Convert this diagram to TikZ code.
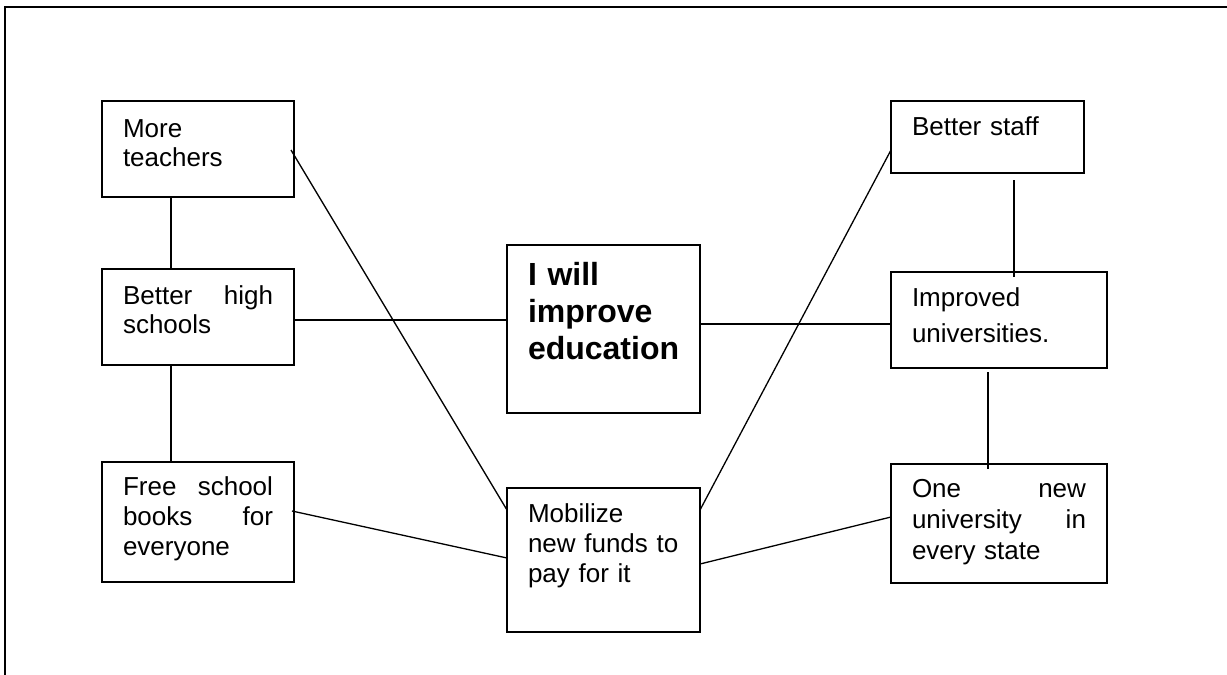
\documentclass[tikz,border=0pt]{standalone}
\usepackage{fontspec}
\setmainfont{Liberation Sans}
\usetikzlibrary{calc}
\begin{document}
\begin{tikzpicture}[x=1pt,y=-1pt,
  box/.style={draw, line width=1.6pt, anchor=north west, inner xsep=21pt, inner ysep=0pt, outer sep=0pt, align=left},
  reg/.style={font=\fontsize{26}{#1}\selectfont},
  link/.style={line width=1.3pt},
  frame/.style={line width=2pt}]
\useasboundingbox (0,0) rectangle (1227,675);
\draw[frame] (5,675) -- (5,7) -- (1227,7);

\node[box, reg=29, text width=150pt, text height=36pt, text depth=60pt] (mt) at (102,101) {More\\teachers};
\node[box, reg=29, text width=150pt, text height=35pt, text depth=61pt] (bhs) at (102,269) {Better\hfill high\\schools};
\node[box, reg=30, text width=150pt, text height=33pt, text depth=87pt] (fsb) at (102,462) {Free\hfill school\\books\hfill for\\everyone};
\node[box, font=\bfseries\fontsize{32}{37}\selectfont, text width=151pt, text height=40pt, text depth=128pt] (ctr) at (507,245) {I will\\improve\\education};
\node[box, reg=30, text width=151pt, text height=34pt, text depth=110pt] (mob) at (507,488) {Mobilize\\new funds to\\pay for it};
\node[box, reg=29, text width=151pt, text height=34pt, text depth=38pt] (bs) at (891,101) {Better staff};
\node[box, reg=36, text width=174pt, text height=34pt, text depth=62pt] (iu) at (891,272) {Improved\\universities.};
\node[box, reg=31, text width=174pt, text height=33pt, text depth=86pt] (on) at (891,464) {One\hfill new\\university\hfill in\\every state};

\draw[link] ($(mt.south west)+(69,0)$) -- ($(bhs.north west)+(69,0)$);
\draw[link] ($(bhs.south west)+(69,0)$) -- ($(fsb.north west)+(69,0)$);
\draw[link] ($(bhs.north east)+(0,51)$) -- ($(ctr.north west)+(0,75)$);
\draw[link] ($(mt.north east)+(-3,49)$) -- ($(mob.north west)+(0,22)$);
\draw[link] ($(fsb.north east)+(-2,49)$) -- ($(mob.north west)+(0,70)$);
\draw[link] ($(ctr.north east)+(0,79)$) -- ($(iu.north west)+(0,52)$);
\draw[link] ($(mob.north east)+(0,22)$) -- ($(bs.north west)+(0,49)$);
\draw[link] ($(bs.south west)+(123,7)$) -- ($(iu.north west)+(123,5)$);
\draw[link] ($(iu.south west)+(97,4)$) -- ($(on.north west)+(97,5)$);
\draw[link] ($(mob.north east)+(0,76)$) -- ($(on.north west)+(0,53)$);
\end{tikzpicture}
\end{document}
